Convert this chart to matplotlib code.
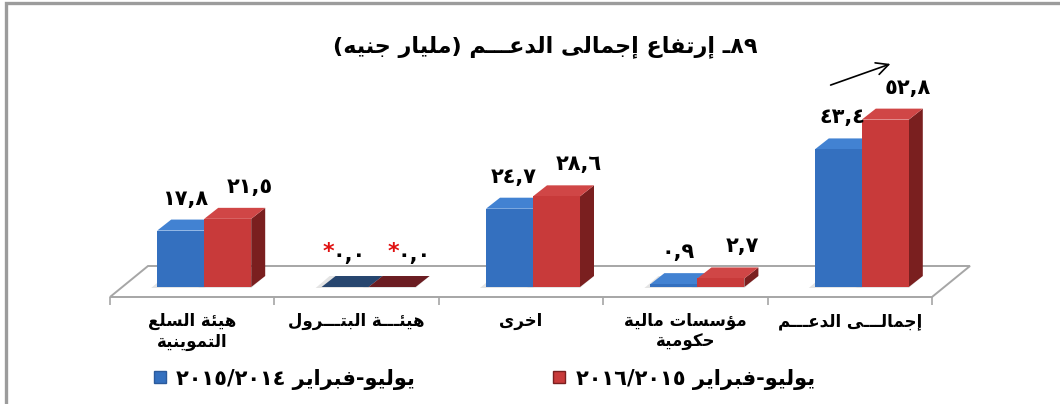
import numpy as np
import matplotlib
matplotlib.use('Agg')
import matplotlib.pyplot as plt
from matplotlib.patches import Polygon, Rectangle
from matplotlib.lines import Line2D

# ---- data (display order, left to right) ----
categories = ['هيئة السلع\nالتموينية', 'هيئـــة البتـــرول', 'اخرى',
              'مؤسسات مالية\nحكومية', 'إجمالـــى الدعـــم']
values_1415 = [17.8, 0.0, 24.7, 0.9, 43.4]
values_1516 = [21.5, 0.0, 28.6, 2.7, 52.8]
starred = [False, True, False, False, False]
legend_1415 = 'يوليو-فبراير ٢٠١٥/٢٠١٤'
legend_1516 = 'يوليو-فبراير ٢٠١٦/٢٠١٥'
title = '٨٩ـ إرتفاع إجمالى الدعـــم (مليار جنيه)'

# ---- minimal arabic shaping + rtl ordering (mpl 3.10 has no text shaping) ----
FORMS = {'ء': (0xFE80, 1), 'آ': (0xFE81, 2), 'أ': (0xFE83, 2), 'ؤ': (0xFE85, 2),
         'إ': (0xFE87, 2), 'ئ': (0xFE89, 4), 'ا': (0xFE8D, 2), 'ب': (0xFE8F, 4),
         'ة': (0xFE93, 2), 'ت': (0xFE95, 4), 'ث': (0xFE99, 4), 'ج': (0xFE9D, 4),
         'ح': (0xFEA1, 4), 'خ': (0xFEA5, 4), 'د': (0xFEA9, 2), 'ذ': (0xFEAB, 2),
         'ر': (0xFEAD, 2), 'ز': (0xFEAF, 2), 'س': (0xFEB1, 4), 'ش': (0xFEB5, 4),
         'ص': (0xFEB9, 4), 'ض': (0xFEBD, 4), 'ط': (0xFEC1, 4), 'ظ': (0xFEC5, 4),
         'ع': (0xFEC9, 4), 'غ': (0xFECD, 4), 'ف': (0xFED1, 4), 'ق': (0xFED5, 4),
         'ك': (0xFED9, 4), 'ل': (0xFEDD, 4), 'م': (0xFEE1, 4), 'ن': (0xFEE5, 4),
         'ه': (0xFEE9, 4), 'و': (0xFEED, 2), 'ى': (0xFEEF, 2), 'ي': (0xFEF1, 4)}
LAM_ALEF = {'آ': 0xFEF5, 'أ': 0xFEF7, 'إ': 0xFEF9, 'ا': 0xFEFB}
TATWEEL = 'ـ'
DUAL = set(c for c, (b, k) in FORMS.items() if k == 4) | {TATWEEL}
JOIN = set(c for c, (b, k) in FORMS.items() if k >= 2) | {TATWEEL}
NUMCH = set('٠١٢٣٤٥٦٧٨٩0123456789,/.')
MIRROR = {'(': ')', ')': '('}


def shape(text):
    out = []
    i = 0
    while i < len(text):
        c = text[i]
        prev = text[i - 1] if i > 0 else ''
        nxt = text[i + 1] if i + 1 < len(text) else ''
        jp = prev in DUAL
        if c == 'ل' and nxt in LAM_ALEF:
            out.append(chr(LAM_ALEF[nxt] + (1 if jp else 0)))
            i += 2
            continue
        if c in FORMS:
            base, k = FORMS[c]
            if k == 4:
                jn = nxt in JOIN
                idx = 3 if (jp and jn) else 1 if jp else 2 if jn else 0
            elif k == 2:
                idx = 1 if jp else 0
            else:
                idx = 0
            out.append(chr(base + idx))
        else:
            out.append(c)
        i += 1
    return ''.join(out)


def rtl(text):
    lines = []
    for line in text.split('\n'):
        runs = []
        for ch in shape(line):
            isnum = ch in NUMCH
            if runs and runs[-1][0] == isnum:
                runs[-1][1].append(ch)
            else:
                runs.append([isnum, [ch]])
        parts = []
        for isnum, chs in reversed(runs):
            if isnum:
                parts.append(''.join(chs))
            else:
                parts.append(''.join(MIRROR.get(c, c) for c in reversed(chs)))
        lines.append(''.join(parts))
    return '\n'.join(lines)


def ar_num(v):
    return f'{v:.1f}'.translate(str.maketrans('0123456789.', '٠١٢٣٤٥٦٧٨٩,'))


# ---- figure / geometry ----
W, H = 1060, 404
fig = plt.figure(figsize=(W / 100, H / 100), dpi=100)
plt.rcParams['font.family'] = ['DejaVu Sans']

PX_X = 164.4      # pixels per category
PX_Y = 3.17       # pixels per unit
YMAX = 60
ax = fig.add_axes([110 / W, (H - 297) / H, 5 * PX_X / W, YMAX * PX_Y / H])
ax.set_xlim(0, 5)
ax.set_ylim(0, YMAX)
for s in ax.spines.values():
    s.set_visible(False)
ax.set_yticks([])
ax.patch.set_alpha(0)

# depth vectors in data units
fdx, fdy = 38 / PX_X, 31 / PX_Y      # floor depth
odx, ody = 12 / PX_X, 10 / PX_Y      # bar front plane offset
ddx, ddy = 14 / PX_X, 11 / PX_Y      # bar depth
bw = 47 / PX_X

n = len(categories)
floor = Polygon([(0, 0), (n, 0), (n + fdx, fdy), (fdx, fdy)], closed=True,
                facecolor='white', edgecolor='#a6a6a6', lw=1.4, zorder=1, clip_on=False)
ax.add_patch(floor)

ax.set_xticks(np.arange(n + 1))
ax.set_xticklabels([])
ax.tick_params(axis='x', which='major', length=6, width=1.2, color='#a6a6a6')
ax.set_xticks(np.arange(n) + 0.5, [rtl(c) for c in categories], minor=True)
ax.tick_params(axis='x', which='minor', length=0, pad=11, labelsize=12)
for t in ax.get_xticklabels(minor=True):
    t.set_fontweight('bold')

series = [
    (values_1415, -1, '#3470bf', '#4282d2', '#2b5a9c', '#27466f', 0),
    (values_1516, 0, '#c83a3a', '#d04646', '#7a1f1f', '#6b1d22', 18),
]
z = 2
for i in range(n):
    for vals, side, front, top, sidec, flat, lab_dx in series:
        h = vals[i]
        x0 = i + 0.5 + odx + side * bw
        b = ody
        # soft shadow on the floor
        ax.add_patch(Polygon([(x0 - 6 / PX_X, b - 1 / PX_Y), (x0 + bw, b - 1 / PX_Y),
                              (x0 + bw + ddx, b + ddy), (x0 - 6 / PX_X + ddx, b + ddy)],
                             facecolor='#d9d9d9', lw=0, zorder=1.5, alpha=0.7))
        ax.add_patch(Polygon([(x0 + bw, b), (x0 + bw + ddx, b + ddy),
                              (x0 + bw + ddx, b + h + ddy), (x0 + bw, b + h)],
                             facecolor=sidec, lw=0, zorder=z))
        ax.add_patch(Polygon([(x0, b + h), (x0 + bw, b + h),
                              (x0 + bw + ddx, b + h + ddy), (x0 + ddx, b + h + ddy)],
                             facecolor=flat if h == 0 else top, lw=0, zorder=z + 1))
        ax.bar(x0, h, width=bw, bottom=b, align='edge', color=front, lw=0, zorder=z + 2)
        z += 3
        xc = x0 + bw / 2
        ax.annotate(ar_num(h), (xc, b + h), xytext=(lab_dx + 4, 32), textcoords='offset pixels',
                    ha='center', va='center', fontsize=15, fontweight='bold', zorder=50)
        if starred[i]:
            ax.annotate('*', (xc, b + h), xytext=(lab_dx - 17, 35), textcoords='offset pixels',
                        ha='center', va='center', fontsize=16, fontweight='bold',
                        color='#e01010', zorder=50)

# title + arrow
fig.text(545 / W, 1 - 47 / H, rtl(title), ha='center', va='center',
         fontsize=16, fontweight='bold')
ax.annotate('', xy=(893 / W, 1 - 63 / H), xytext=(828 / W, 1 - 86 / H),
            xycoords='figure fraction', textcoords='figure fraction',
            arrowprops=dict(arrowstyle='->', color='black', lw=1.2, mutation_scale=22))

# legend
handles = [Line2D([], [], marker='s', ls='none', markersize=8, markerfacecolor='#3470bf',
                  markeredgecolor='#2b5a9c'),
           Line2D([], [], marker='s', ls='none', markersize=8, markerfacecolor='#c83a3a',
                  markeredgecolor='#7a1f1f')]
fig.legend(handles, [rtl(legend_1415), rtl(legend_1516)], ncol=2, frameon=False,
           loc='center', bbox_to_anchor=(483 / W, 1 - 379 / H),
           prop={'size': 15, 'weight': 'bold'}, handletextpad=0.4, columnspacing=6.5,
           handlelength=0.8)

# outer frame (top and left edges visible)
fig.patches.append(Rectangle((6 / W, -0.2), 1.2, 1.2 - 3 / H, transform=fig.transFigure,
                             fill=False, edgecolor='#9c9c9c', lw=2.4))

fig.savefig('out.png', dpi=100)
